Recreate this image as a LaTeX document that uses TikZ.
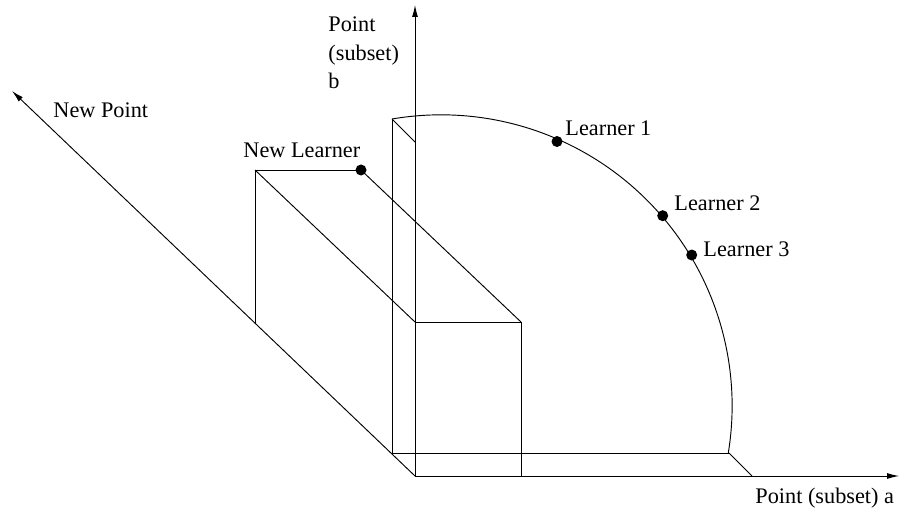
\documentclass[tikz,border=0pt]{standalone}
\usepackage{fontspec}
\setmainfont{Liberation Serif}
\usetikzlibrary{arrows.meta}
\begin{document}
\begin{tikzpicture}[x=0.03cm, y=-0.03cm, line width=0.8pt,
    axis/.style={-{Latex[length=3.6mm, width=1.8mm]}},
    tag/.style={inner sep=0pt, anchor=base west, align=left,
        font=\fontsize{19}{24}\selectfont},
    learner/.style={circle, fill=black, inner sep=0pt, minimum size=3.3mm}]
    \useasboundingbox (0,0) rectangle (901,508);
    % Axes
    \coordinate (O) at (415,476);
    \coordinate (aend) at (899,476);
    \coordinate (bend) at (415,5);
    \coordinate (nend) at (12,91);
    \draw[axis] (O) -- (aend);
    \draw[axis] (O) -- (bend);
    \draw[axis] (O) -- (nend);
    % Back plane with the learners' arc
    \coordinate (bb) at (392,453);
    \coordinate (bt) at (392,119);
    \coordinate (br) at (729,453);
    \coordinate (ft) at (415,142);
    \coordinate (fr) at (752,476);
    \draw (bt) -- (bb) -- (br);
    \draw (bt) -- (ft);
    \draw (br) -- (fr);
    \draw (bt) arc[start angle=99.72, end angle=-9.46, radius=8.73cm];
    % Box of the new learner
    \coordinate (bx1) at (415,322);
    \coordinate (bx2) at (521,322);
    \coordinate (bx3) at (521,476);
    \coordinate (na) at (255,323);
    \coordinate (nb) at (255,170);
    \node[learner] (nl) at (361,170) {};
    \draw (bx1) -- (bx2) -- (bx3);
    \draw (na) -- (nb) -- (nl.center);
    \draw (nb) -- (bx1);
    \draw (nl.center) -- (bx2);
    % Learners
    \foreach \name/\x/\y in {l1/557/141.5, l2/662.7/215.7, l3/691.7/255}
        \node[learner] (\name) at (\x,\y) {};
    % Labels
    \node[tag, font=\fontsize{19}{24.1}\selectfont] (bname) at (328,88.3) {Point\\(subset)\\b};
    \node[tag] (aname) at (755,503.3) {Point (subset) a};
    \node[tag] (nname) at (53,118) {New Point};
    \node[tag] (nlname) at (243,158) {New Learner};
    \node[tag] (l1name) at (565,135) {Learner 1};
    \node[tag] (l2name) at (674,210) {Learner 2};
    \node[tag] (l3name) at (703,256.7) {Learner 3};
\end{tikzpicture}
\end{document}
